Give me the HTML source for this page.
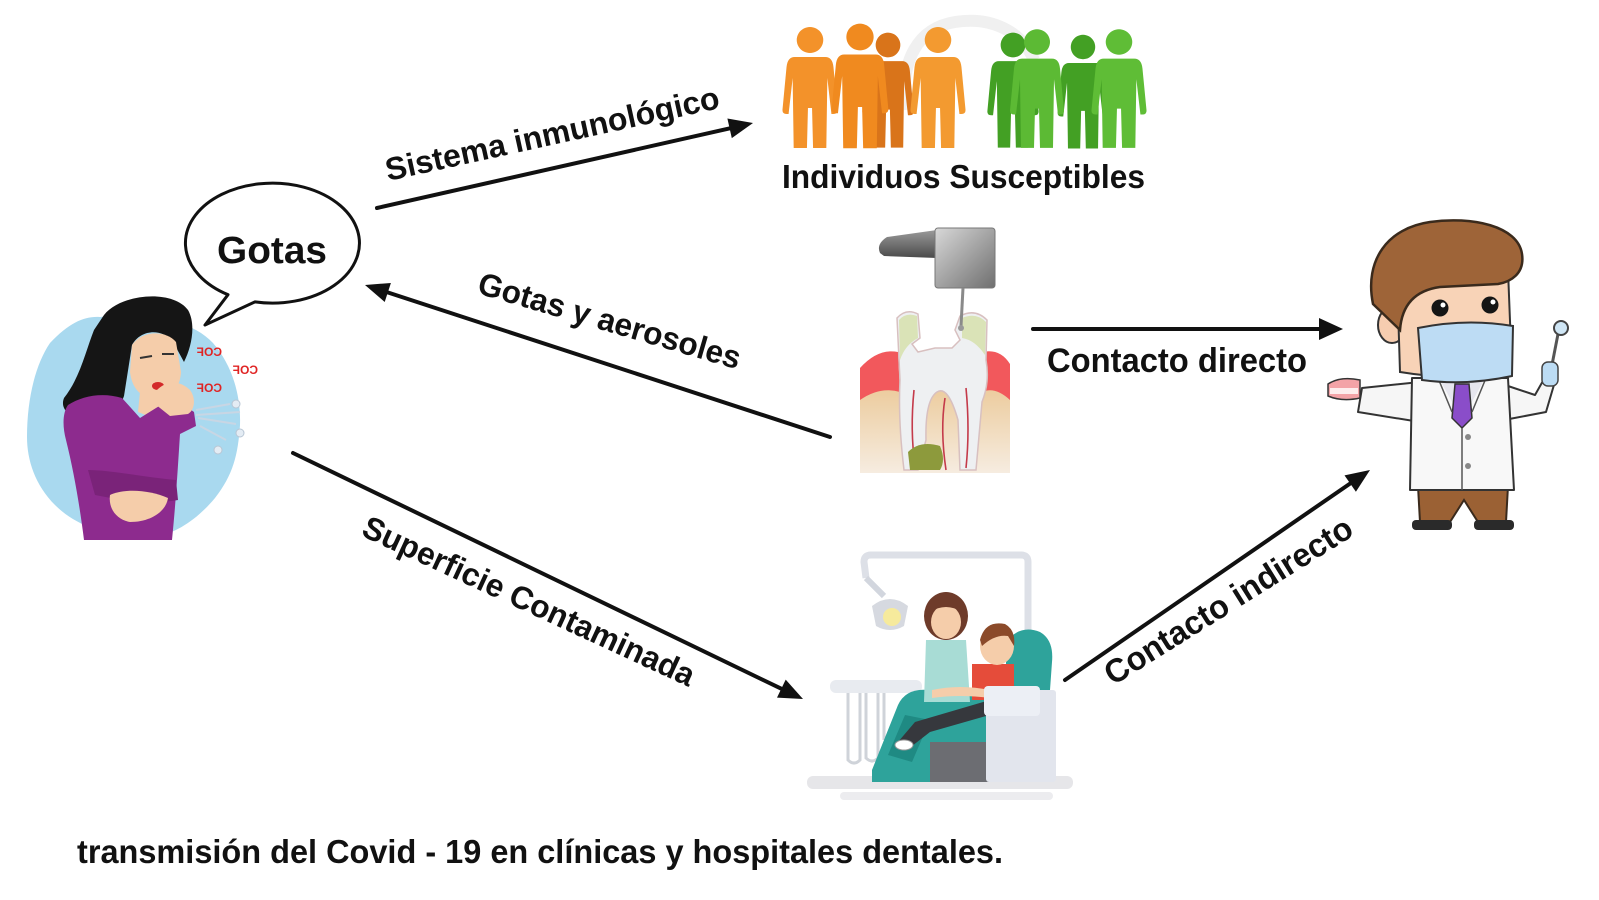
<!DOCTYPE html>
<html>
<head>
<meta charset="utf-8">
<style>
  html, body { margin:0; padding:0; background:#ffffff; }
  body { width:1599px; height:900px; overflow:hidden; }
  svg { display:block; }
  text { font-family: "Liberation Sans", Arial, sans-serif; font-weight:bold; fill:#111; }
</style>
</head>
<body>
<svg width="1599" height="900" viewBox="0 0 1599 900" xmlns="http://www.w3.org/2000/svg">
  <defs>
    <linearGradient id="hp1" x1="0" y1="0" x2="1" y2="1">
      <stop offset="0" stop-color="#d8d8d8"/>
      <stop offset="1" stop-color="#6f6f6f"/>
    </linearGradient>
    <linearGradient id="hp2" x1="0" y1="0" x2="0" y2="1">
      <stop offset="0" stop-color="#9a9a9a"/>
      <stop offset="1" stop-color="#4a4a4a"/>
    </linearGradient>
    <linearGradient id="bone" x1="0" y1="0" x2="0" y2="1">
      <stop offset="0" stop-color="#eccb9c"/>
      <stop offset="1" stop-color="#f6ece0"/>
    </linearGradient>
    <path id="fig" d="M0,-13 A13,13 0 1 1 -0.01,-13 Z M -15,17 Q -22,17 -23,27 L -27,70 Q -27,74 -23,74 L -21,74 L -17,38 L -16,108 L -3,108 L -2,68 L 2,68 L 3,108 L 16,108 L 17,38 L 21,74 L 23,74 Q 27,74 27,70 L 23,27 Q 22,17 15,17 Z"/>
  </defs>

  <!-- ===== Woman coughing ===== -->
  <path d="M50,343 C70,322 85,316 100,317 C140,312 190,318 213,343 C232,365 241,395 240,425 C238,455 233,475 215,498 C195,522 175,532 160,536 C120,540 80,530 55,505 C35,485 27,460 27,437 C27,400 35,365 50,343 Z" fill="#a9d9ef"/>
  <!-- hair -->
  <path d="M102,318 C116,294 172,288 188,310 C196,324 192,346 184,362 L172,340 C160,328 140,330 132,345 L124,396 C118,414 98,420 80,418 C68,416 60,408 64,398 C80,378 86,350 94,330 Z" fill="#151515"/>
  <!-- face -->
  <path d="M132,345 C142,330 166,330 176,342 L181,372 C180,390 168,400 154,399 C140,397 132,388 130,372 Z" fill="#f5cdaa"/>
  <path d="M140,358 L152,356 M162,354 L174,354" stroke="#333" stroke-width="2" fill="none"/>
  <ellipse cx="158" cy="386" rx="6" ry="4" fill="#d32a2a"/>
  <!-- neck -->
  <path d="M140,392 L160,398 L158,420 L138,412 Z" fill="#f5cdaa"/>
  <!-- sweater -->
  <path d="M68,405 C82,396 102,392 122,398 L140,418 L156,408 C166,402 176,400 184,405 L194,412 L196,426 L180,434 C178,465 176,500 172,540 L84,540 C80,508 74,472 66,440 C62,425 63,412 68,405 Z" fill="#8d2b8e"/>
  <!-- raised forearm / hand -->
  <path d="M150,400 C160,380 178,378 190,390 C196,398 195,410 188,414 L170,416 Z" fill="#f5cdaa"/>
  <!-- arm across belly -->
  <path d="M88,470 C110,470 150,478 176,480 L178,500 C150,505 120,500 95,495 Z" fill="#7a2379"/>
  <path d="M110,495 C125,488 150,490 168,498 C166,512 150,522 130,522 C118,520 108,510 110,495 Z" fill="#f5cdaa"/>
  <!-- cough text (mirrored) -->
  <text transform="translate(222,356) scale(-1,1)" font-size="12" style="fill:#e02424">COF</text>
  <text transform="translate(258,374) scale(-1,1)" font-size="12" style="fill:#e02424">COF</text>
  <text transform="translate(222,392) scale(-1,1)" font-size="12" style="fill:#e02424">COF</text>
  <!-- droplets -->
  <g stroke="#c8d6e4" stroke-width="2" fill="none">
    <path d="M196,410 L230,404 M198,418 L236,424 M200,426 L226,440 M196,415 L240,412"/>
  </g>
  <circle cx="236" cy="404" r="4" fill="#e4ecf4" stroke="#b8c6d4"/>
  <circle cx="240" cy="433" r="4" fill="#e4ecf4" stroke="#b8c6d4"/>
  <circle cx="218" cy="450" r="4" fill="#e4ecf4" stroke="#b8c6d4"/>

  <!-- ===== Speech bubble ===== -->
  <path d="M228,294.7 L205,325 L255,301.9 A87 60 0 1 0 228,294.7 Z" fill="#fff" stroke="#111" stroke-width="3" stroke-linejoin="round"/>
  <text x="217" y="263" font-size="38" textLength="110" lengthAdjust="spacingAndGlyphs">Gotas</text>

  <!-- ===== People ===== -->
  <path d="M905,110 C900,60 918,28 955,22 C992,16 1022,32 1034,60" stroke="#f0f0f0" stroke-width="12" fill="none"/>
  <use href="#fig" transform="translate(888,45) scale(0.95)" fill="#d9741a"/>
  <use href="#fig" transform="translate(1013,45) scale(0.95)" fill="#43a024"/>
  <use href="#fig" transform="translate(1083,47) scale(0.94)" fill="#43a024"/>
  <use href="#fig" transform="translate(810,40) scale(1.02,1)" fill="#f3922a"/>
  <use href="#fig" transform="translate(860,37) scale(1.05,1.03)" fill="#f08a1f"/>
  <use href="#fig" transform="translate(938,40) scale(1.02,1)" fill="#f39a30"/>
  <use href="#fig" transform="translate(1037,42) scale(1.0,0.98)" fill="#5cba34"/>
  <use href="#fig" transform="translate(1119,42) scale(1.02,0.98)" fill="#5fbd36"/>
  <text x="782" y="188" font-size="33" textLength="363" lengthAdjust="spacingAndGlyphs">Individuos Susceptibles</text>

  <!-- ===== Tooth with handpiece ===== -->
  <path d="M860,395 Q880,383 900,388 L985,388 Q995,383 1010,395 L1010,473 L860,473 Z" fill="url(#bone)"/>
  <path d="M860,368 Q878,348 898,352 L900,392 Q880,386 860,400 Z" fill="#f2585c"/>
  <path d="M982,352 Q1000,348 1010,364 L1010,400 Q995,386 982,392 Z" fill="#f2585c"/>
  <path d="M897,318 Q906,308 918,314 L920,338 L912,344 L918,352 L935,348 L952,348 L960,340 L955,330 L960,316 Q975,308 987,320 L986,360 Q990,382 982,402 L976,470 L960,470 L958,420 Q948,385 937,392 Q925,400 926,440 L918,470 L904,470 Q898,420 900,380 Z" fill="#eef0f2" stroke="#d8c0c0" stroke-width="1.5"/>
  <path d="M899,320 Q906,312 917,316 L918,338 Q905,345 900,360 Z" fill="#d4e0a8" opacity="0.8"/>
  <path d="M962,318 Q976,312 986,322 L985,355 Q975,340 962,338 Z" fill="#d4e0a8" opacity="0.8"/>
  <path d="M914,390 Q910,430 915,466 M966,388 Q970,430 966,468 M945,398 Q940,430 946,470" stroke="#c43a4a" stroke-width="1.6" fill="none"/>
  <path d="M908,452 Q920,440 940,446 Q946,460 940,470 L910,470 Z" fill="#8d9a3c"/>
  <path d="M880,253 Q876,244 887,237 L937,230 L937,258 L884,256 Z" fill="url(#hp2)"/>
  <rect x="935" y="228" width="60" height="60" rx="3" fill="url(#hp1)" stroke="#777" stroke-width="1"/>
  <line x1="963" y1="288" x2="961" y2="326" stroke="#8a8a8a" stroke-width="3"/>
  <circle cx="961" cy="328" r="3" fill="#999"/>

  <!-- ===== Dentist ===== -->
  <path d="M1418,486 L1508,486 L1506,522 L1478,522 L1464,500 L1450,522 L1420,522 Z" fill="#9b6134" stroke="#3a2a1c" stroke-width="2"/>
  <rect x="1412" y="520" width="40" height="10" rx="4" fill="#2a2a2a"/>
  <rect x="1474" y="520" width="40" height="10" rx="4" fill="#2a2a2a"/>
  <path d="M1420,382 L1362,388 L1358,412 L1420,422 Z" fill="#f6f6f6" stroke="#333" stroke-width="2" stroke-linejoin="round"/>
  <path d="M1328,384 Q1340,376 1360,380 L1360,398 Q1342,402 1328,396 Z" fill="#f3a3a7" stroke="#333" stroke-width="1.5"/>
  <rect x="1330" y="388" width="28" height="6" fill="#fff" opacity="0.8"/>
  <path d="M1502,384 L1535,395 L1548,372 L1556,378 L1546,412 L1504,420 Z" fill="#f6f6f6" stroke="#333" stroke-width="2" stroke-linejoin="round"/>
  <line x1="1551" y1="370" x2="1558" y2="334" stroke="#555" stroke-width="3"/>
  <circle cx="1561" cy="328" r="7" fill="#cfe6f5" stroke="#444" stroke-width="2"/>
  <rect x="1542" y="362" width="16" height="24" rx="6" fill="#bcdcf4" stroke="#444" stroke-width="1.5"/>
  <path d="M1412,378 L1508,378 L1514,490 L1410,490 Z" fill="#f8f8f8" stroke="#333" stroke-width="2" stroke-linejoin="round"/>
  <path d="M1440,380 L1462,420 L1484,380 Z" fill="#e6e6ee"/>
  <path d="M1455,384 L1469,384 L1472,418 L1462,428 L1452,418 Z" fill="#8a4dc9" stroke="#333" stroke-width="1.5"/>
  <path d="M1438,378 L1452,412 M1486,378 L1472,412 M1462,428 L1462,490" stroke="#555" stroke-width="1.5" fill="none"/>
  <circle cx="1468" cy="437" r="3" fill="#888"/>
  <circle cx="1468" cy="466" r="3" fill="#888"/>
  <ellipse cx="1392" cy="325" rx="14" ry="18" fill="#f6cdb0" stroke="#333" stroke-width="2"/>
  <path d="M1397,275 L1508,270 L1512,372 Q1460,382 1400,372 Z" fill="#f8d3b7" stroke="#333" stroke-width="2"/>
  <path d="M1373,304 C1364,260 1388,228 1430,222 C1472,216 1518,226 1522,254 C1525,274 1510,282 1498,284 L1440,287 C1418,290 1402,302 1400,330 Z" fill="#9e6438" stroke="#3a2a1c" stroke-width="2.5"/>
  <circle cx="1440" cy="308" r="8.5" fill="#151515"/>
  <circle cx="1490" cy="305" r="8.5" fill="#151515"/>
  <circle cx="1443" cy="305" r="2.5" fill="#fff"/>
  <circle cx="1493" cy="302" r="2.5" fill="#fff"/>
  <path d="M1418,328 Q1466,318 1513,326 L1512,376 Q1466,386 1422,380 Z" fill="#bddcf4" stroke="#333" stroke-width="2"/>

  <!-- ===== Dental chair scene ===== -->
  <rect x="807" y="776" width="266" height="13" rx="6" fill="#e6e6e9"/>
  <rect x="840" y="792" width="213" height="8" rx="4" fill="#ececef"/>
  <path d="M866,578 L864,562 Q864,555 871,555 L1021,555 Q1028,555 1028,562 L1028,690" stroke="#dde0e7" stroke-width="7" fill="none"/>
  <path d="M866,578 L884,596" stroke="#d2d6de" stroke-width="6"/>
  <path d="M872,606 Q890,592 908,606 L904,626 Q890,634 876,626 Z" fill="#d6d9e0"/>
  <circle cx="892" cy="617" r="9" fill="#f6ea9c"/>
  <g stroke="#cfd3d9" stroke-width="3" fill="none">
    <path d="M848,692 L848,760 Q854,766 860,760 L860,692"/>
    <path d="M866,692 L866,758 Q872,764 878,758 L878,692"/>
    <path d="M884,692 L884,740"/>
  </g>
  <rect x="830" y="680" width="92" height="13" rx="6" fill="#e8ebf0"/>
  <path d="M1006,642 Q1020,624 1040,632 Q1054,640 1052,662 L1050,690 L1006,692 Z" fill="#2ea39b"/>
  <path d="M872,770 L898,705 Q906,688 928,690 L996,698 L1000,742 L962,782 L872,782 Z" fill="#2ea39b"/>
  <path d="M888,755 L905,715 L930,720 L912,762 Z" fill="#1f8a83"/>
  <path d="M930,742 L995,742 L995,782 L930,782 Z" fill="#6c6d72"/>
  <path d="M926,640 L966,640 L970,702 L924,702 Z" fill="#a8dcd5"/>
  <ellipse cx="946" cy="616" rx="22" ry="24" fill="#6e3b2a"/>
  <ellipse cx="946" cy="622" rx="15" ry="17" fill="#f5cdaa"/>
  <path d="M930,604 Q946,590 962,606 L962,612 Q946,602 930,612 Z" fill="#6e3b2a"/>
  <path d="M972,664 L1014,664 L1014,700 L972,700 Z" fill="#e54c3a"/>
  <path d="M990,700 L915,722 L898,742 L912,746 L930,732 L1000,712 Z" fill="#36383d"/>
  <ellipse cx="904" cy="745" rx="9" ry="5" fill="#ffffff" stroke="#999" stroke-width="1"/>
  <ellipse cx="997" cy="646" rx="17" ry="19" fill="#f5cdaa"/>
  <path d="M980,640 Q985,620 1005,624 Q1016,630 1014,646 L1008,636 Q995,634 982,646 Z" fill="#8b4a2a"/>
  <path d="M932,690 Q960,684 990,690 L990,698 Q960,694 932,698 Z" fill="#f5cdaa"/>
  <rect x="986" y="690" width="70" height="92" rx="3" fill="#e2e5ed"/>
  <rect x="984" y="686" width="56" height="30" rx="4" fill="#eceff5"/>

  <!-- ===== Arrows ===== -->
  <g stroke="#111" stroke-width="4" fill="none" stroke-linecap="round">
    <line x1="377" y1="208" x2="730" y2="128.3"/>
    <line x1="830" y1="437" x2="388" y2="292.5"/>
    <line x1="293" y1="453" x2="781" y2="688.6"/>
    <line x1="1033" y1="329" x2="1320" y2="329"/>
    <line x1="1065" y1="680" x2="1350" y2="483.6"/>
  </g>
  <g fill="#111">
    <polygon points="753,123 731.8,138.1 727.4,118.5"/>
    <polygon points="365,285 390.9,283.0 384.7,302.0"/>
    <polygon points="803,699 777.0,697.6 785.7,679.6"/>
    <polygon points="1343,329 1319,318 1319,340"/>
    <polygon points="1370,470 1355.9,491.8 1344.5,475.4"/>
  </g>

  <!-- ===== Arrow labels ===== -->
  <text transform="translate(388,181) rotate(-12.4)" font-size="32" textLength="341" lengthAdjust="spacingAndGlyphs">Sistema inmunológico</text>
  <text transform="translate(476,293) rotate(16.3)" font-size="32" textLength="272" lengthAdjust="spacingAndGlyphs">Gotas y aerosoles</text>
  <text transform="translate(360,535) rotate(24.8)" font-size="32" textLength="362" lengthAdjust="spacingAndGlyphs">Superficie Contaminada</text>
  <text x="1047" y="372" font-size="34" textLength="260" lengthAdjust="spacingAndGlyphs">Contacto directo</text>
  <text transform="translate(1113,686) rotate(-32)" font-size="33" textLength="286" lengthAdjust="spacingAndGlyphs">Contacto indirecto</text>

  <!-- ===== Caption ===== -->
  <text x="77" y="863" font-size="33" textLength="926" lengthAdjust="spacingAndGlyphs">transmisión del Covid - 19 en clínicas y hospitales dentales.</text>
</svg>
</body>
</html>
